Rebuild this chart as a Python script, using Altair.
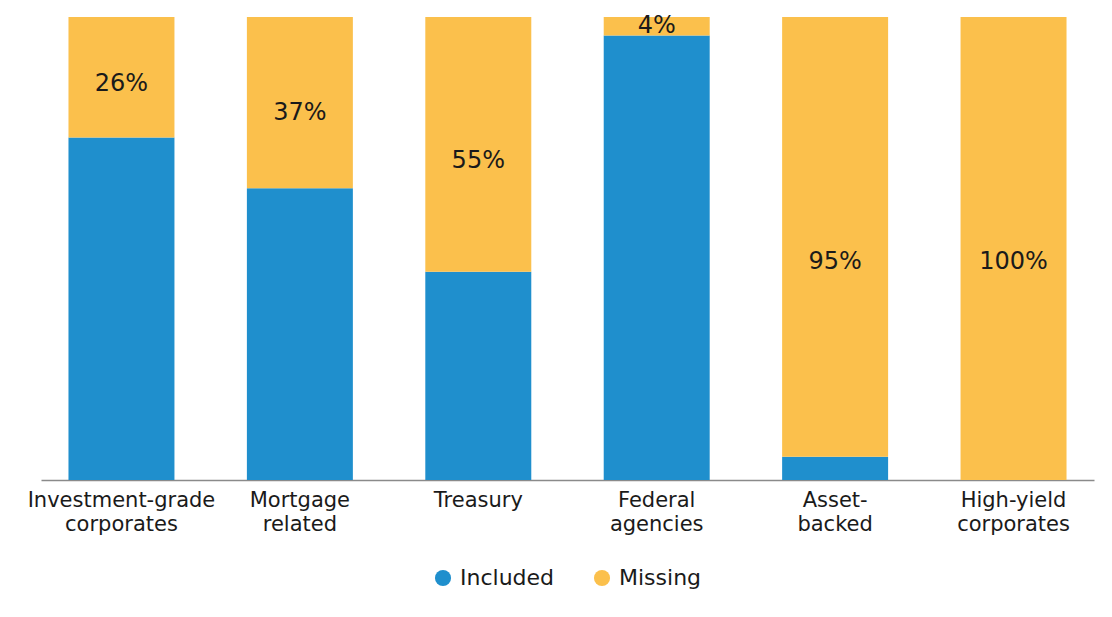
import altair as alt
import pandas as pd

categories = [
    "Investment-grade\ncorporates",
    "Mortgage\nrelated",
    "Treasury",
    "Federal\nagencies",
    "Asset-\nbacked",
    "High-yield\ncorporates",
]
missing = [26, 37, 55, 4, 95, 100]
included = [100 - m for m in missing]
series = ["Included", "Missing"]
colors = ["#1F8FCD", "#FBC04C"]

rows = []
for c, inc, mis in zip(categories, included, missing):
    rows.append({"category": c, "series": "Included", "value": inc, "ord": 0})
    rows.append({"category": c, "series": "Missing", "value": mis, "ord": 1})
df = pd.DataFrame(rows)

FONT = "DejaVu Sans"

x_enc = alt.X(
    "category:N",
    sort=categories,
    scale=alt.Scale(paddingInner=0.406, paddingOuter=0.154),
    axis=alt.Axis(
        title=None,
        labelExpr="split(datum.label, '\\n')",
        labelAngle=0,
        labelFontSize=21,
        labelLineHeight=24,
        labelFont=FONT,
        labelColor="#1a1a1a",
        labelPadding=9,
        labelLimit=0,
        ticks=False,
        domainColor="#8a8a8a",
        domainWidth=1.5,
    ),
)

bars = alt.Chart(df).mark_bar().encode(
    x=x_enc,
    y=alt.Y("value:Q", stack="zero", scale=alt.Scale(domain=[0, 100]), axis=None),
    color=alt.Color(
        "series:N",
        scale=alt.Scale(domain=series, range=colors),
        legend=alt.Legend(
            title=None,
            orient="none",
            direction="horizontal",
            legendX=391,
            legendY=550,
            symbolType="circle",
            symbolSize=260,
            symbolStrokeWidth=0,
            labelFontSize=22,
            labelFont=FONT,
            labelColor="#1a1a1a",
            columnPadding=36,
            labelOffset=6,
        ),
    ),
    order=alt.Order("ord:Q"),
)

labels = (
    alt.Chart(df)
    .transform_filter(alt.datum.series == "Missing")
    .transform_calculate(
        pos="100 - min(0.57 * datum.value - 0.3, 53)",
        txt="datum.value + '%'",
    )
    .mark_text(fontSize=24, font=FONT, color="#1a1a1a", baseline="middle")
    .encode(
        x=alt.X("category:N", sort=categories),
        y=alt.Y("pos:Q"),
        text="txt:N",
    )
)

chart = (
    alt.layer(bars, labels)
    .properties(
        width=1053,
        height=463,
        autosize=alt.AutoSizeParams(type="none"),
        padding={"left": 33, "top": 9, "right": 10, "bottom": 129},
    )
    .configure_view(stroke=None)
)

chart.save("out.html", embed_options={"renderer": "svg", "actions": False})
